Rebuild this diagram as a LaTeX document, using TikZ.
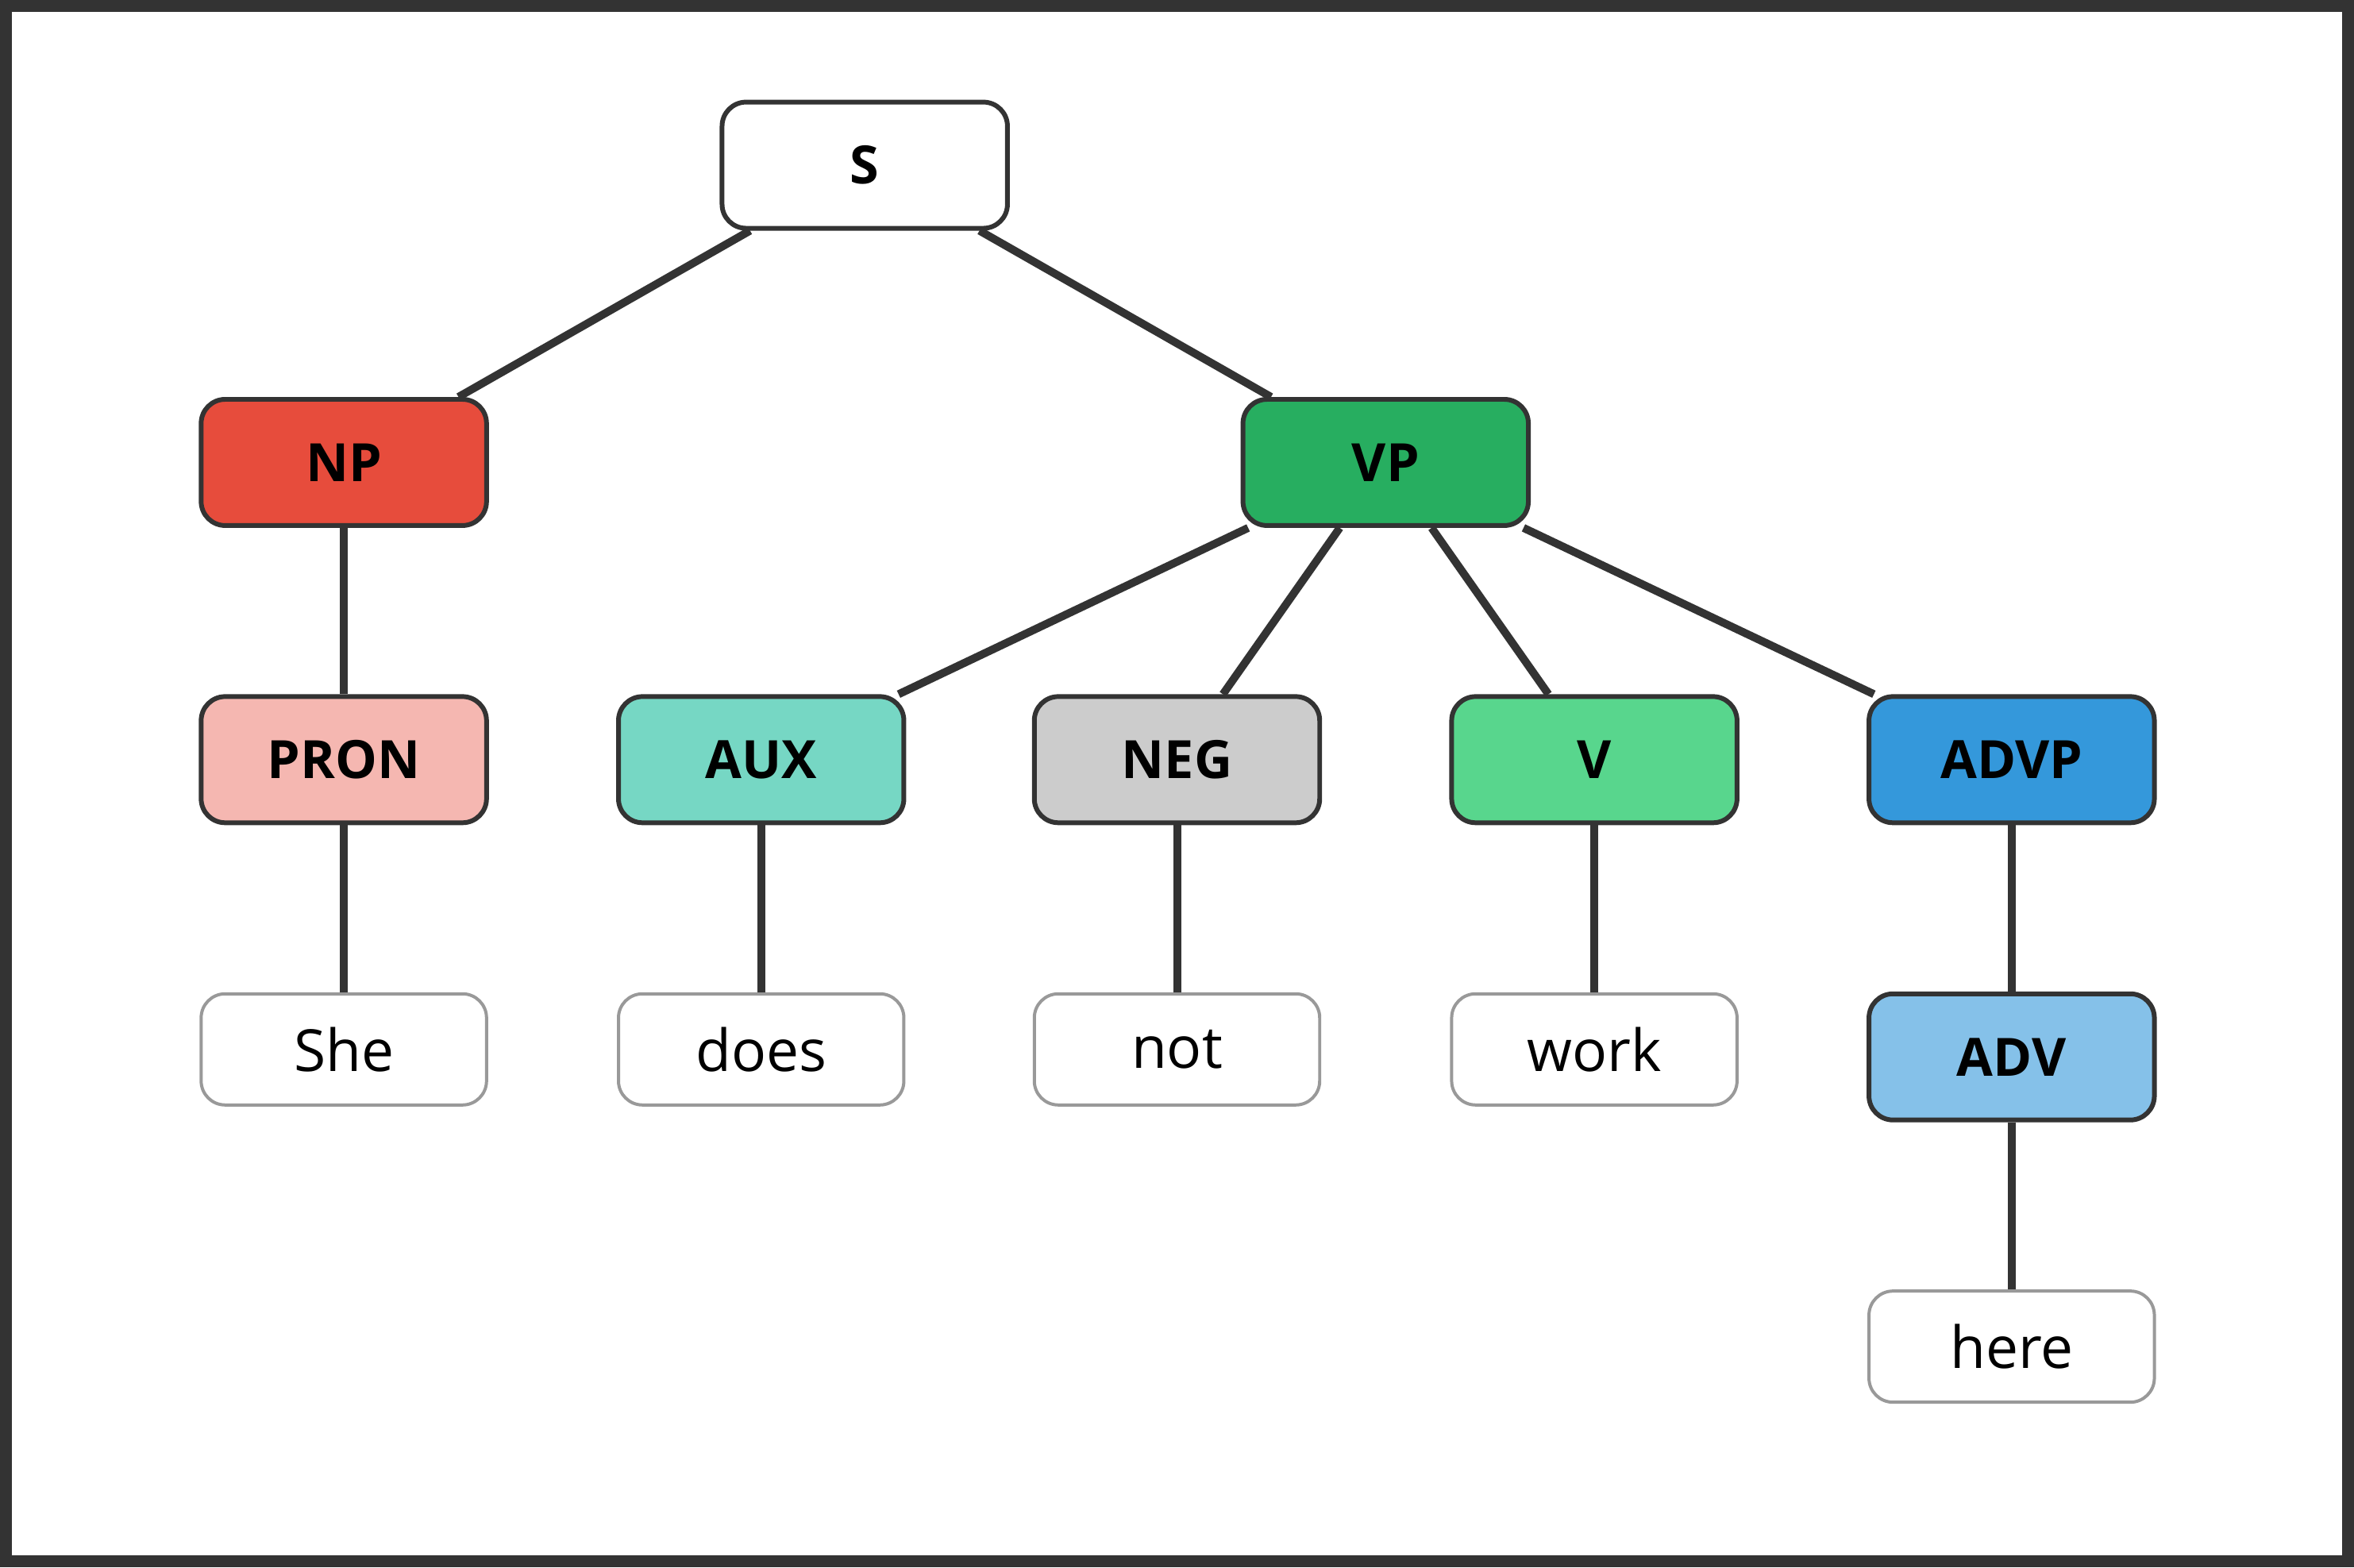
\documentclass[tikz,border=0pt]{standalone}
\usepackage{fontspec}
\setmainfont{Open Sans}
\usepackage{xcolor}
\definecolor{treeDark}{HTML}{333333}
\definecolor{treeLeaf}{HTML}{999999}
\definecolor{colNP}{HTML}{E74C3C}
\definecolor{colVP}{HTML}{27AE60}
\definecolor{colPRON}{HTML}{F5B7B1}
\definecolor{colAUX}{HTML}{76D7C4}
\definecolor{colNEG}{HTML}{CCCCCC}
\definecolor{colV}{HTML}{58D68D}
\definecolor{colADVP}{HTML}{3498DB}
\definecolor{colADV}{HTML}{85C1E9}
\usepackage{tikz}
\usetikzlibrary{positioning}
\tikzset{
    phrase/.style={
        draw=treeDark,
        fill=white,
        rectangle,
        rounded corners=1.6mm,
        align=center,
        minimum height=0.84cm,
        minimum width=1.9cm,
        line width=0.9pt,
        font=\fontsize{10}{12}\selectfont\bfseries
    },
    word/.style={
        draw=treeLeaf,
        fill=white,
        rectangle,
        rounded corners=1.6mm,
        align=center,
        minimum height=0.74cm,
        minimum width=1.9cm,
        line width=0.6pt,
        font=\fontsize{11}{13}\selectfont
    },
    branch/.style={
        line width=1.5pt,
        color=treeDark
    }
}
\begin{document}
\begin{tikzpicture}[x=0.01cm, y=-0.01cm]
    \draw[line width=2.3pt, color=treeDark] (4,4) rectangle (1564,1040);
    \node[phrase] (s) at (576,110) {S};
    \node[phrase, fill=colNP] (np) at (229,308) {NP};
    \node[phrase, fill=colVP] (vp) at (923,308) {VP};
    \node[phrase, fill=colPRON] (pron) at (229,506) {PRON};
    \node[phrase, fill=colAUX] (aux) at (507,506) {AUX};
    \node[phrase, fill=colNEG] (neg) at (784,506) {NEG};
    \node[phrase, fill=colV] (v) at (1062,506) {V};
    \node[phrase, fill=colADVP] (advp) at (1340,506) {ADVP};
    \node[word] (she) at (229,699) {She};
    \node[word] (does) at (507,699) {does};
    \node[word] (not) at (784,699) {not};
    \node[word] (work) at (1062,699) {work};
    \node[phrase, fill=colADV] (adv) at (1340,704) {ADV};
    \node[word] (here) at (1340,897) {here};

    \draw[branch] (s) -- (np);
    \draw[branch] (s) -- (vp);
    \draw[branch] (np) -- (pron);
    \draw[branch] (vp) -- (aux);
    \draw[branch] (vp) -- (neg);
    \draw[branch] (vp) -- (v);
    \draw[branch] (vp) -- (advp);
    \draw[branch] (pron) -- (she);
    \draw[branch] (aux) -- (does);
    \draw[branch] (neg) -- (not);
    \draw[branch] (v) -- (work);
    \draw[branch] (advp) -- (adv);
    \draw[branch] (adv) -- (here);
\end{tikzpicture}
\end{document}
